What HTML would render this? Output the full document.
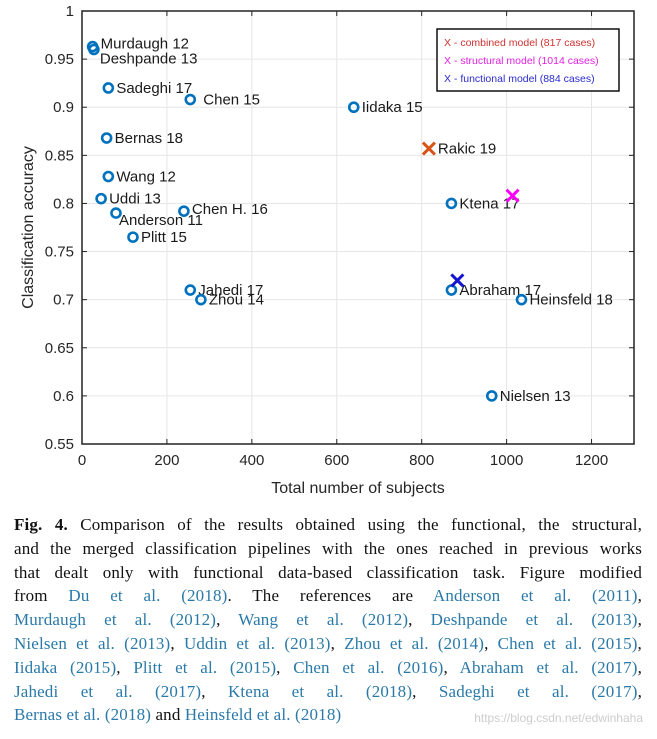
<!DOCTYPE html>
<html><head><meta charset="utf-8"><style>
body{margin:0;background:#fff;width:657px;height:739px;overflow:hidden;position:relative}
svg{position:absolute;left:0;top:0}
.cap{position:absolute;left:14px;top:513px;width:628px;font-family:"Liberation Serif",serif;font-size:17px;letter-spacing:0.15px;line-height:23.8px;color:#111}
.cap span{display:block;text-align:justify;text-align-last:justify;white-space:nowrap}
.cap span.last{text-align:left;text-align-last:left}
.cap a{color:#2a79a8;text-decoration:none}
.wm{position:absolute;right:14px;top:711px;font-family:"Liberation Sans",sans-serif;font-size:12px;color:#ccc}
</style></head><body>
<svg id="chart" width="657" height="505" font-family="Liberation Sans, sans-serif"></svg>
<div class="cap">
<span><b>Fig. 4.</b> Comparison of the results obtained using the functional, the structural,</span>
<span>and the merged classification pipelines with the ones reached in previous works</span>
<span>that dealt only with functional data-based classification task. Figure modified</span>
<span>from <a>Du et al. (2018)</a>. The references are <a>Anderson et al. (2011)</a>,</span>
<span><a>Murdaugh et al. (2012)</a>, <a>Wang et al. (2012)</a>, <a>Deshpande et al. (2013)</a>,</span>
<span><a>Nielsen et al. (2013)</a>, <a>Uddin et al. (2013)</a>, <a>Zhou et al. (2014)</a>, <a>Chen et al. (2015)</a>,</span>
<span><a>Iidaka (2015)</a>, <a>Plitt et al. (2015)</a>, <a>Chen et al. (2016)</a>, <a>Abraham et al. (2017)</a>,</span>
<span><a>Jahedi et al. (2017)</a>, <a>Ktena et al. (2018)</a>, <a>Sadeghi et al. (2017)</a>,</span>
<span class="last"><a>Bernas et al. (2018)</a> and <a>Heinsfeld et al. (2018)</a></span>
</div>
<div class="wm">https://blog.csdn.net/edwinhaha</div>
<script>
const names=["Murdaugh 12","Deshpande 13","Sadeghi 17","Chen 15","Bernas 18","Wang 12","Uddi 13","Anderson 11","Chen H. 16","Plitt 15","Iidaka 15","Jahedi 17","Zhou 14","Ktena 17","Abraham 17","Heinsfeld 18","Nielsen 13"];
const subjects=[25,28,62,255,58,62,45,80,240,120,640,255,280,870,870,1035,965];
const accuracy=[0.963,0.960,0.920,0.908,0.868,0.828,0.805,0.790,0.792,0.765,0.900,0.710,0.700,0.800,0.710,0.700,0.600];
const crossNames=["Rakic 19","",""];
const crossX=[817,1014,884];
const crossY=[0.857,0.808,0.720];
const crossColors=["#d95319","#ff00ff","#1515d0"];
const xTicks=[0,200,400,600,800,1000,1200];
const yTicks=[0.55,0.6,0.65,0.7,0.75,0.8,0.85,0.9,0.95,1];
// label nudges (styling only)
const labelNudgeX=[8,6,8,13,8,8,8,3,8,8,8,8,8,8,8,8,8];
const labelNudgeY=[2,14,5,5,5,5,5,12,3,5,5,5,5,5,5,5,5];
const L=82,R=634,T=11,B=444;
const sx=v=>L+(v/1300)*(R-L), sy=v=>B-(v-0.55)/0.45*(B-T);
const s=document.getElementById('chart');const NS='http://www.w3.org/2000/svg';
function mk(t,a,p){const e=document.createElementNS(NS,t);for(const k in a)e.setAttribute(k,a[k]);(p||s).appendChild(e);return e;}
xTicks.forEach(v=>{const x=sx(v);
const g=mk('line',{x1:x,x2:x,y1:T,y2:B,stroke:'#e6e6e6'});
mk('line',{x1:x,x2:x,y1:B,y2:B-5,stroke:'#222'});mk('line',{x1:x,x2:x,y1:T,y2:T+5,stroke:'#222'});
const t=mk('text',{x:x,y:B+21,'text-anchor':'middle','font-size':15,fill:'#262626'});t.textContent=v;});
yTicks.forEach(v=>{const y=sy(v);
const g=mk('line',{x1:L,x2:R,y1:y,y2:y,stroke:'#e6e6e6'});
mk('line',{x1:L,x2:L+5,y1:y,y2:y,stroke:'#222'});mk('line',{x1:R,x2:R-5,y1:y,y2:y,stroke:'#222'});
const t=mk('text',{x:L-8,y:y+5,'text-anchor':'end','font-size':15,fill:'#262626'});t.textContent=v;});
const fr=mk('rect',{x:L,y:T,width:R-L,height:B-T,fill:'none',stroke:'#222','stroke-width':1.5});
let xt=mk('text',{x:(L+R)/2,y:493,'text-anchor':'middle','font-size':16,fill:'#262626'});xt.textContent='Total number of subjects';
let yt=mk('text',{x:0,y:0,'text-anchor':'middle','font-size':16,fill:'#262626',transform:`translate(33,${(T+B)/2}) rotate(-90)`});yt.textContent='Classification accuracy';
names.forEach((n,i)=>{const x=sx(subjects[i]),y=sy(accuracy[i]);
const c=mk('circle',{cx:x,cy:y,r:4.5,fill:'none',stroke:'#0072bd','stroke-width':2.6});
const t=mk('text',{x:x+labelNudgeX[i],y:y+labelNudgeY[i],'font-size':15,fill:'#1a1a1a'});t.textContent=n;});
crossX.forEach((v,i)=>{const x=sx(v),y=sy(crossY[i]),d=6;
const g=mk('path',{d:`M${x-d},${y-d}L${x+d},${y+d}M${x-d},${y+d}L${x+d},${y-d}`,stroke:crossColors[i],'stroke-width':3});
if(crossNames[i]){const t=mk('text',{x:x+9,y:y+5,'font-size':15,fill:'#1a1a1a'});t.textContent=crossNames[i];}});
const lg=mk('rect',{x:437,y:29,width:182,height:62,fill:'#fff',stroke:'#111','stroke-width':1.5});
[["X - combined model (817 cases)","#d03030"],["X - structural model (1014 cases)","#e020e0"],["X - functional model (884 cases)","#2a2ad0"]].forEach((l,i)=>{const t=mk('text',{x:444,y:46+i*18,'font-size':10.5,fill:l[1]});t.textContent=l[0];});
</script>
</body></html>
